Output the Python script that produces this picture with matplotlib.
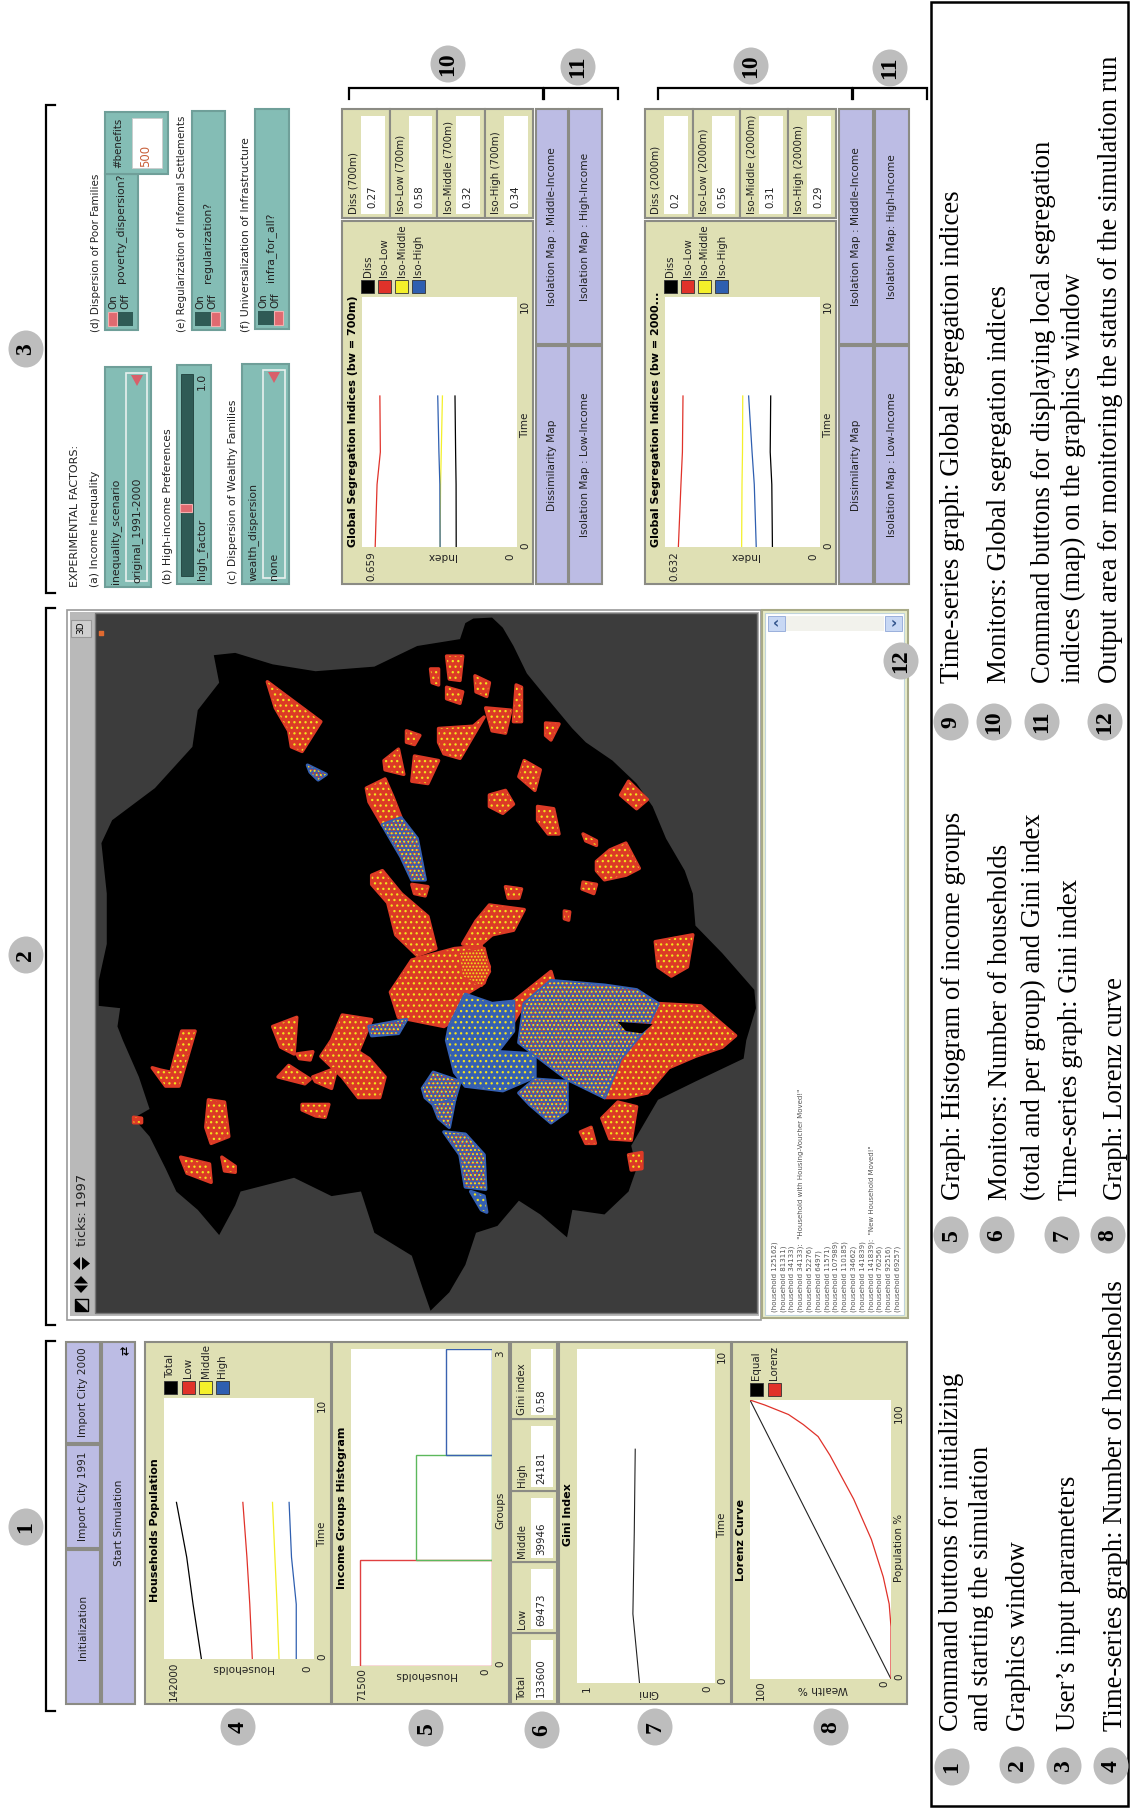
import matplotlib
matplotlib.use('Agg')
import matplotlib.pyplot as plt
from matplotlib.patches import Rectangle, Polygon, Ellipse

plt.rcParams['hatch.linewidth'] = 0.9

UI_FONT = ['Liberation Sans Narrow', 'DejaVu Sans']
SERIF = ['Liberation Serif', 'DejaVu Serif']

# plot data
pop_time = [0, 2.1, 3.9, 6.0]
pop_total = [106600, 114500, 120500, 130200]
pop_low = [58400, 60800, 63500, 67350]
pop_middle = [33100, 35000, 37000, 39300]
pop_high = [16800, 16800, 21300, 23570]

hist_groups = [0.5, 1.5, 2.5]
hist_values = [67000, 38500, 23100]
hist_colors = ['#e04040', '#5cb85c', '#3a62b0']

gini_time = [0, 2.07, 4.5, 7.0]
gini_values = [0.547, 0.595, 0.585, 0.578]

lorenz_pop = [0, 18.7, 26.9, 36.6, 50, 64.5, 80.2, 86.9, 91.2, 94.8, 98.2, 100]
lorenz_wealth = [0, 0, 1.3, 5.5, 13.9, 26.5, 43.3, 51.7, 62.2, 72.7, 89.5, 100]

seg_time = [0, 2.5, 3.8, 6.04]
seg700_low = [0.603, 0.595, 0.581, 0.583]
seg700_middle = [0.327, 0.325, 0.322, 0.317]
seg700_high = [0.327, 0.328, 0.332, 0.337]
seg700_diss = [0.2585, 0.259, 0.261, 0.2636]
seg2000_low = [0.5775, 0.567, 0.561, 0.5586]
seg2000_middle = [0.3195, 0.318, 0.316, 0.315]
seg2000_high = [0.26, 0.268, 0.277, 0.291]
seg2000_diss = [0.194, 0.1965, 0.203, 0.201]

legend_pop = ['Total', 'Low', 'Middle', 'High']
legend_seg = ['Diss', 'Iso-Low', 'Iso-Middle', 'Iso-High']
line_colors = ['#000000', '#e0322a', '#f4f02a', '#2f5fb0']

monitors_main = [('Total', '133600'), ('Low', '69473'), ('Middle', '39946'), ('High', '24181'), ('Gini index', '0.58')]
monitors_700 = [('Diss (700m)', '0.27'), ('Iso-Low (700m)', '0.58'), ('Iso-Middle (700m)', '0.32'), ('Iso-High (700m)', '0.34')]
monitors_2000 = [('Diss (2000m)', '0.2'), ('Iso-Low (2000m)', '0.56'), ('Iso-Middle (2000m)', '0.31'), ('Iso-High (2000m)', '0.29')]

output_lines = ['(household 125162)', '(household 81311)', '(household 34133)',
                '(household 34133):  "Household with Housing-Voucher Moved!"',
                '(household 52276)', '(household 6497)', '(household 11571)', '(household 107989)',
                '(household 110185)', '(household 34662)', '(household 141839)',
                '(household 141839):  "New Household Moved!"',
                '(household 76256)', '(household 92516)', '(household 69257)']

table_col1 = ['Command buttons for initializing', 'and starting the simulation', 'Graphics window',
              'User\u2019s input parameters', 'Time-series graph: Number of households']
table_col2 = ['Graph: Histogram of income groups', 'Monitors: Number of households',
              '(total and per group) and Gini index', 'Time-series graph: Gini index', 'Graph: Lorenz curve']
table_col3 = ['Time-series graph: Global segregation indices', 'Monitors: Global segregation indices',
              'Command buttons for displaying local segregation', 'indices (map) on the graphics window',
              'Output area for monitoring the status of the simulation run']

# map shapes, in a 1237 x 1527 map grid
map_outline = [(700, 50), (715, 40), (750, 38), (770, 60), (790, 100), (815, 160), (850, 210), (900, 280), (925, 310),
               (975, 350), (1020, 400), (1050, 450), (1075, 520), (1110, 590), (1125, 640), (1130, 710), (1180, 770),
               (1240, 850), (1243, 890), (1225, 960), (1220, 1000), (1130, 1050), (1060, 1090), (1040, 1130),
               (1010, 1190), (1020, 1240), (1005, 1290), (960, 1340), (900, 1330), (890, 1390), (840, 1340),
               (800, 1310), (760, 1365), (720, 1380), (700, 1450), (670, 1510), (635, 1550), (620, 1500), (600, 1430),
               (530, 1380), (505, 1290), (450, 1300), (380, 1260), (280, 1290), (270, 1320), (240, 1385), (200, 1330),
               (160, 1290), (140, 1240), (110, 1170), (80, 1130), (110, 1110), (90, 1040), (60, 960), (50, 930),
               (55, 890), (15, 885), (15, 830), (30, 750), (30, 640), (20, 530), (40, 480), (120, 410), (190, 320),
               (200, 240), (240, 180), (230, 120), (270, 115), (340, 140), (420, 155), (530, 145), (610, 100),
               (690, 85)]
map_red = [
    [(330, 178), (430, 265), (395, 330), (375, 320), (370, 285), (345, 235)],
    [(665, 122), (695, 122), (690, 175), (670, 172)],
    [(635, 150), (650, 150), (650, 185), (638, 180)],
    [(665, 190), (695, 200), (690, 225), (665, 215)],
    [(718, 165), (745, 180), (740, 210), (720, 200)],
    [(738, 235), (785, 240), (775, 290), (750, 285)],
    [(650, 280), (715, 275), (735, 255), (690, 345), (660, 335), (650, 310)],
    [(795, 185), (805, 190), (805, 265), (790, 265)],
    [(850, 268), (875, 270), (860, 305), (850, 295)],
    [(590, 285), (615, 295), (605, 315), (590, 310)],
    [(548, 350), (575, 325), (585, 380), (550, 370)],
    [(605, 340), (650, 350), (630, 400), (600, 395)],
    [(810, 350), (840, 370), (830, 415), (800, 385)],
    [(745, 425), (775, 415), (790, 445), (770, 465), (745, 450)],
    [(835, 450), (865, 455), (875, 510), (855, 510), (835, 480)],
    [(920, 510), (945, 525), (945, 535), (925, 525)],
    [(945, 570), (970, 545), (1000, 530), (1025, 585), (1000, 600), (960, 610), (945, 590)],
    [(920, 615), (945, 620), (940, 640), (918, 630)],
    [(1005, 395), (1040, 435), (1020, 455), (990, 425)],
    [(515, 410), (550, 390), (565, 430), (580, 475), (545, 490), (520, 440)],
    [(525, 600), (545, 590), (580, 640), (630, 690), (645, 760), (610, 775), (570, 730), (555, 660), (525, 620)],
    [(600, 620), (630, 625), (625, 645), (605, 640)],
    [(775, 625), (805, 630), (800, 650), (780, 650)],
    [(885, 678), (895, 680), (893, 698), (885, 695)],
    [(745, 665), (810, 675), (790, 720), (750, 730), (725, 755), (695, 750), (720, 700)],
    [(1055, 745), (1125, 730), (1115, 800), (1085, 820), (1060, 800)],
    [(560, 855), (600, 785), (680, 760), (730, 755), (745, 800), (735, 835), (700, 860), (700, 900), (660, 930), (575, 910)],
    [(1060, 880), (1140, 885), (1205, 950), (1180, 975), (1130, 995), (1080, 1020), (1040, 1075), (1000, 1085), (960, 1085), (980, 950)],
    [(790, 875), (860, 810), (865, 830), (810, 880), (790, 920)],
    [(470, 905), (525, 915), (500, 985), (520, 1000), (550, 1040), (540, 1085), (500, 1085), (470, 1040), (430, 995), (450, 960)],
    [(340, 930), (385, 910), (380, 990), (355, 975)],
    [(385, 990), (415, 985), (410, 1003), (390, 1000)],
    [(370, 1015), (410, 1045), (400, 1055), (350, 1040)],
    [(415, 1040), (460, 1020), (450, 1065), (420, 1050)],
    [(170, 940), (195, 940), (165, 1060), (140, 1060), (115, 1020), (130, 1025), (150, 1030)],
    [(220, 1090), (250, 1095), (258, 1170), (225, 1185), (215, 1150)],
    [(168, 1215), (222, 1230), (225, 1270), (180, 1250)],
    [(245, 1215), (270, 1235), (270, 1248), (250, 1245)],
    [(395, 1100), (445, 1100), (438, 1128), (420, 1125), (395, 1112)],
    [(80, 1128), (95, 1130), (95, 1140), (80, 1140)],
    [(955, 1130), (985, 1095), (1020, 1105), (1010, 1178), (970, 1175)],
    [(915, 1160), (935, 1150), (943, 1185), (925, 1185)],
    [(1005, 1210), (1030, 1205), (1030, 1240), (1010, 1243)],
]
map_blue = [
    [(700, 860), (750, 880), (790, 875), (790, 940), (760, 985), (830, 990), (830, 1040), (770, 1070), (700, 1060), (680, 1030), (665, 960), (670, 930)],
    [(710, 1290), (735, 1300), (740, 1335), (730, 1330)],
]
map_mix = [
    [(405, 360), (440, 380), (425, 392), (410, 375)],
    [(545, 490), (580, 475), (610, 520), (625, 610), (600, 610), (580, 560)],
    [(860, 830), (960, 840), (1020, 850), (1060, 880), (1040, 930), (990, 1000), (960, 1085), (890, 1045), (800, 965), (810, 880)],
    [(800, 1075), (830, 1045), (890, 1050), (890, 1115), (860, 1140), (820, 1100)],
    [(620, 1065), (640, 1030), (690, 1050), (680, 1090), (650, 1110), (625, 1085)],
    [(640, 1100), (680, 1090), (670, 1150), (650, 1130)],
    [(660, 1160), (700, 1165), (735, 1210), (738, 1285), (700, 1280), (690, 1210)],
    [(520, 930), (590, 915), (575, 945), (525, 950)],
]
map_yellow = [[(690, 770), (735, 760), (745, 810), (730, 840), (695, 820)]]
map_holes = [[(985, 920), (1050, 925), (1030, 945), (1000, 940)]]

PANEL = '#dfe0b4'
BUTTON = '#bcbce4'
TEAL = '#84bdb5'
EDGE = '#8b8b84'
RED = '#dc3a26'
BLUE = '#3560b2'
YELLOW = '#f2e41e'

fig = plt.figure(figsize=(11.3, 18.09), dpi=100)
base = fig.add_axes([0, 0, 1, 1])
base.set_xlim(0, 1130)
base.set_ylim(1809, 0)
base.axis('off')


def box(x0, x1, y0, y1, color, edge=EDGE, lw=1.5, z=1):
    base.add_patch(Rectangle((x0, y0), x1 - x0, y1 - y0, facecolor=color, edgecolor=edge, linewidth=lw, zorder=z))


def txt(x, y, s, size=7.5, color='#222222', va='bottom', ha='center', rot=90, weight='normal', family=UI_FONT, z=5, **kw):
    return base.text(x, y, s, fontsize=size, color=color, va=va, ha=ha, rotation=rot, fontweight=weight,
                     family=family, zorder=z, **kw)


def button(x0, x1, y0, y1, label):
    box(x0, x1, y0, y1, BUTTON)
    txt((x0 + x1) / 2, (y0 + y1) / 2, label, va='center', size=7.6)


def monitors_v(y_edges, x0, x1, items):
    for i, (label, value) in enumerate(items):
        y0, y1 = y_edges[i + 1], y_edges[i]
        box(x0, x1, y0, y1, PANEL)
        box(x0 + 20, x1 - 4, y0 + 7, y1 - 4, 'white', edge='none', lw=0)
        txt(x0 + 11, y1 - 4, label, size=7.4)
        txt(x0 + 30, y1 - 7, value, size=7.4)


def plot_axes(x0, x1, y0, y1):
    ax = fig.add_axes([x0 / 1130, 1 - y1 / 1809, (x1 - x0) / 1130, (y1 - y0) / 1809])
    ax.set_facecolor('white')
    ax.set_xticks([])
    ax.set_yticks([])
    for s in ax.spines.values():
        s.set_visible(False)
    return ax


def legend(xs, y0, y1, names, colors):
    for x, name, c in zip(xs, names, colors):
        box(x, x + 13, y0, y1, c, edge='#333333', lw=0.6, z=3)
        txt(x + 6.5, y0 - 3, name, size=7.4)


def circle(x, y, s, size=17):
    base.add_patch(Ellipse((x, y), 35, 37, facecolor='#bdbdbd', edgecolor='none', zorder=6))
    txt(x, y, s, size=size, color='black', va='center', weight='bold', family=SERIF, z=7)


def bracket_v(x, y0, y1):
    base.plot([x + 9, x, x, x + 9], [y0, y0, y1, y1], color='black', lw=1.6, solid_joinstyle='miter', zorder=4)


def bracket_h(x0, x1, y):
    base.plot([x0, x0, x1, x1], [y + 11, y, y, y + 11], color='black', lw=1.6, solid_joinstyle='miter', zorder=4)


def chooser(x0, x1, y0, y1, name, value):
    box(x0, x1, y0, y1, TEAL, edge='#6f9f99')
    box(x0 + 21, x1 - 4, y0 + 6, y1 - 6, TEAL, edge='#e8f0ee', lw=1.2)
    txt(x0 + 11, y1 - 3, name, size=7.8)
    txt(x0 + 32, y1 - 4, value, size=7.8)
    xm, ym = x0 + 32, y0 + 14
    base.add_patch(Polygon([(xm - 6, ym - 6), (xm + 6, ym - 6), (xm, ym + 5)], facecolor='#d8606a', edgecolor='none', zorder=5))


def switch(x0, x1, y0, y1, name, on_side):
    box(x0, x1, y0, y1, TEAL, edge='#6f9f99')
    box(x0 + 3, x0 + 28, y1 - 18, y1 - 4, '#2f5a55', edge='none', lw=0)
    hx = x0 + 3 if on_side else x0 + 19
    box(hx, hx + 9, y1 - 18, y1 - 4, '#e06a70', edge='#f4b0b0', lw=0.8)
    txt(x0 + 8, y1 - 21, 'On', size=7.4)
    txt(x0 + 20, y1 - 21, 'Off', size=7.4)
    txt(x0 + 16, y1 - 47, name, size=7.8)


def map_patch(pts, face, layers):
    # a thick round edge softens the corners, the dots go on top
    world.add_patch(Polygon(pts, facecolor=face, edgecolor=face, linewidth=2.5, joinstyle='round'))
    for color, pattern in layers:
        world.add_patch(Polygon(pts, facecolor='none', edgecolor=color, hatch=pattern, linewidth=0))


# buttons, left block
button(66, 100, 1342, 1443, 'Import City 2000')
button(66, 100, 1445, 1548, 'Import City 1991')
button(66, 100, 1550, 1704, 'Initialization')
button(102, 135, 1342, 1704, 'Start Simulation')
txt(126, 1350, '\u21c4', size=8, color='black', va='center', weight='bold', family=['DejaVu Sans'])

# households panel
box(145, 331, 1342, 1704, PANEL)
txt(155, 1530, 'Households Population', size=8, va='center', weight='bold', color='black')
ax = plot_axes(164, 314, 1398, 1659)
for vals, c in zip([pop_total, pop_low, pop_middle, pop_high], line_colors):
    ax.plot(vals, pop_time, color=c, lw=0.9)
ax.set_xlim(142000, 0)
ax.set_ylim(0, 10)
txt(174, 1701, '142000')
txt(307, 1665, '0', va='top')
txt(242, 1668, 'Households', rot=180, va='center', size=7.6)
txt(322, 1657, '0', va='center')
txt(322, 1405, '10', va='center')
txt(322, 1534, 'Time', va='center')
legend([164, 181.5, 199, 216], 1381, 1394, legend_pop, line_colors)

# histogram panel
box(332, 509, 1342, 1704, PANEL)
txt(342, 1508, 'Income Groups Histogram', size=8, va='center', weight='bold', color='black')
ax = plot_axes(351, 492, 1349, 1666)
ax.barh(hist_groups, hist_values, height=1, fill=False, edgecolor=hist_colors, linewidth=1.0)
ax.set_xlim(71500, 0)
ax.set_ylim(0, 3)
txt(362, 1701, '71500')
txt(485, 1672, '0', va='center')
txt(425, 1675, 'Households', rot=180, va='center', size=7.6)
txt(500, 1664, '0', va='center')
txt(500, 1354, '3', va='center')
txt(500, 1510, 'Groups', va='center')

monitors_v([1704, 1633, 1562, 1491, 1419, 1342], 511, 557, monitors_main)

# gini panel
box(559, 731, 1342, 1704, PANEL)
txt(568, 1515, 'Gini Index', size=8, va='center', weight='bold', color='black')
ax = plot_axes(577, 715, 1349, 1683)
ax.plot(gini_values, gini_time, color='#222222', lw=0.8)
ax.set_xlim(1, 0)
ax.set_ylim(0, 10)
txt(587, 1689, '1', va='center')
txt(707, 1689, '0', va='center')
txt(648, 1693, 'Gini', rot=180, va='center', size=7.6)
txt(722, 1681, '0', va='center')
txt(722, 1356, '10', va='center')
txt(722, 1525, 'Time', va='center')
txt(651, 1682, '0.46', bbox=dict(facecolor=PANEL, edgecolor='none', pad=1))
txt(710, 1625, '2.11', bbox=dict(facecolor=PANEL, edgecolor='none', pad=1))

# lorenz panel
box(732, 907, 1342, 1704, PANEL)
txt(741, 1540, 'Lorenz Curve', size=8, va='center', weight='bold', color='black')
ax = plot_axes(750, 891, 1400, 1679)
ax.plot([0, 100], [0, 100], color='#222222', lw=0.8)
ax.plot(lorenz_wealth, lorenz_pop, color=line_colors[1], lw=0.9)
ax.set_xlim(100, 0)
ax.set_ylim(0, 100)
txt(761, 1700, '100')
txt(884, 1684, '0', va='center')
txt(823, 1689, 'Wealth %', rot=180, va='center', size=7.6)
txt(899, 1413, '100', va='center')
txt(899, 1677, '0', va='center')
txt(899, 1548, 'Population %', va='center')
legend([750, 768], 1383, 1396, ['Equal', 'Lorenz'], ['#000000', '#e0322a'])

# graphics window
box(67, 761, 610, 1320, 'white', edge='#999999', lw=1.2)
box(70, 759, 612, 1316, '#b9b9b9', edge='none', lw=0)
box(95, 757, 613, 1313, '#3c3c3c', edge='#777777', lw=1)
txt(82, 1210, 'ticks: 1997', va='center', color='#222222', size=9.4)
box(71, 91, 620, 637, '#cfcfcf', edge='#999999', lw=0.8)
txt(81, 628, '3D', va='center', size=6.5, color='black')
base.add_patch(Polygon([(75, 1299), (75, 1311), (88, 1311)], facecolor='black', zorder=5))
base.add_patch(Rectangle((75, 1299), 13, 12, facecolor='none', edgecolor='black', lw=1, zorder=5))
# arrow icons on the toolbar
base.add_patch(Polygon([(81, 1276), (74, 1283.5), (88, 1283.5)], facecolor='black', zorder=5))
base.add_patch(Polygon([(81, 1293), (74, 1285.5), (88, 1285.5)], facecolor='black', zorder=5))
base.add_patch(Polygon([(73, 1263.5), (80, 1257), (80, 1270)], facecolor='black', zorder=5))
base.add_patch(Polygon([(90, 1263.5), (82, 1257), (82, 1270)], facecolor='black', zorder=5))

world = plot_axes(95, 757, 613, 1313)
world.patch.set_alpha(0)
world.set_xlim(8, 1245)
world.set_ylim(1555, 28)
world.add_patch(Polygon(map_outline, facecolor='black', edgecolor='none'))
for pts in map_red:
    map_patch(pts, RED, [(YELLOW, '...')])
for pts in map_blue:
    map_patch(pts, BLUE, [(YELLOW, '...')])
for pts in map_mix:
    map_patch(pts, BLUE, [(RED, '.....'), (YELLOW, '....')])
for pts in map_yellow:
    map_patch(pts, RED, [(YELLOW, '.....')])
for pts in map_holes:
    world.add_patch(Polygon(pts, facecolor='black', edgecolor='none'))
world.scatter([20], [72], s=6, marker='s', color='#e06a30')

# output area
box(762, 908, 610, 1318, '#e8ecc8', edge='#a8aa88', lw=1.5)
box(765, 904, 613, 1315, 'white', edge='#c0d4dc', lw=0.8)
box(786, 884, 616, 631, '#f2f2ec', edge='none', lw=0)
box(768, 785, 616, 631, '#c8d8f4', edge='#9ab0dc', lw=0.7)
box(885, 902, 616, 631, '#c8d8f4', edge='#9ab0dc', lw=0.7)
txt(776.5, 623.5, '\u2039', va='center', ha='center', rot=0, size=11, color='#33558c', family=['DejaVu Sans'], weight='bold')
txt(893.5, 623.5, '\u203a', va='center', ha='center', rot=0, size=11, color='#33558c', family=['DejaVu Sans'], weight='bold')
for i, line in enumerate(output_lines):
    txt(774.5 + i * 8.8, 1312, line, size=5.0, color='#555555', family=['DejaVu Sans'])

# input parameters
txt(75, 587, 'EXPERIMENTAL FACTORS:', size=8)
txt(95, 587, '(a) Income Inequality', size=7.8)
chooser(105, 151, 367, 587, 'inequality_scenario', 'original_1991-2000')
txt(168, 584, '(b) High-income Preferences', size=7.8)
box(177, 211, 365, 584, TEAL, edge='#6f9f99')
box(181, 193, 374, 576, '#2f5a55', edge='#1f3f3c', lw=0.6)
box(180, 192, 504, 512, '#e06a70', edge='#f4b0b0', lw=0.8)
txt(202, 580, 'high_factor', size=7.8)
txt(202, 390, '1.0', size=7.8)
txt(233, 584, '(c) Dispersion of Wealthy Families', size=7.8)
chooser(242, 289, 364, 584, 'wealth_dispersion', 'none')
txt(96, 332, '(d) Dispersion of Poor Families', size=7.5)
switch(105, 138, 174, 330, 'poverty_dispersion?', True)
box(105, 168, 112, 174, TEAL, edge='#6f9f99')
box(132, 162, 118, 168, 'white', edge='#cccccc', lw=0.6)
txt(118, 168, '#benefits', size=7.4)
txt(146, 167, '500', size=8.5, color='#c8603a')
txt(182, 332, '(e) Regularization of Informal Settlements', size=7.4)
switch(192, 225, 111, 330, 'regularization?', False)
txt(245, 332, '(f) Universalization of Infrastructure', size=7.8)
switch(255, 289, 109, 329, 'infra_for_all?', False)

# segregation panels
for x_mon, title, top, low_, mid_, high_, diss_, mons in [
        (342, 'Global Segregation Indices (bw = 700m)', '0.659', seg700_low, seg700_middle, seg700_high, seg700_diss, monitors_700),
        (645, 'Global Segregation Indices (bw = 2000...', '0.632', seg2000_low, seg2000_middle, seg2000_high, seg2000_diss, monitors_2000)]:
    x_r = x_mon + 191
    box(x_mon, x_r, 221, 584, PANEL)
    txt(x_mon + 11, 547, title, size=8, weight='bold', color='black')
    ax = plot_axes(x_mon + 20, x_mon + 175, 297, 547)
    for vals, c in zip([diss_, low_, mid_, high_], line_colors):
        ax.plot(vals, seg_time, color=c, lw=0.9)
    ax.set_xlim(float(top), 0)
    ax.set_ylim(0, 10)
    txt(x_mon + 29, 581, top)
    txt(x_mon + 168, 553, '0', va='top')
    txt(x_mon + 99, 556, 'Index', rot=180, va='center', size=7.6)
    txt(x_mon + 183, 546, '0', va='center')
    txt(x_mon + 183, 306, '10', va='center')
    txt(x_mon + 183, 425, 'Time', va='center')
    legend([x_mon + 19, x_mon + 36, x_mon + 53, x_mon + 70], 280, 293, legend_seg, line_colors)
    w = 47.7
    for i, (label, value) in enumerate(mons):
        x0, x1 = x_mon + i * w, x_mon + (i + 1) * w
        box(x0, x1, 109, 218, PANEL)
        box(x0 + 19, x1 - 5, 116, 214, 'white', edge='none', lw=0)
        txt(x0 + 11, 214, label, size=7.4)
        txt(x0 + 30, 208, value, size=7.4)

button(536, 568, 109, 344, 'Isolation Map : Middle-Income')
button(569, 602, 109, 344, 'Isolation Map : High-Income')
button(536, 568, 346, 584, 'Dissimilarity Map')
button(569, 602, 346, 584, 'Isolation Map : Low-Income')
button(839, 873, 109, 344, 'Isolation Map : Middle-Income')
button(875, 909, 109, 344, 'Isolation Map: High-Income')
button(839, 873, 346, 584, 'Dissimilarity Map')
button(875, 909, 346, 584, 'Isolation Map : Low-Income')

# brackets
bracket_v(46, 105, 593)
bracket_v(46, 608, 1325)
bracket_v(46, 1341, 1711)
bracket_h(349, 543, 88)
bracket_h(544, 618, 88)
bracket_h(658, 852, 88)
bracket_h(853, 927, 88)

# numbered callouts
for x, y, s in [(26, 1527, '1'), (26, 955, '2'), (26, 349, '3'), (238, 1727, '4'), (426, 1728, '5'), (542, 1730, '6'),
                (655, 1727, '7'), (831, 1727, '8'), (384, 321, '9'), (699, 319, '9'), (448, 64, '10'), (751, 66, '10'),
                (578, 67, '11'), (890, 68, '11'), (901, 661, '12')]:
    circle(x, y, s)

# table at the right
base.add_patch(Rectangle((931, 2), 197, 1804, facecolor='white', edgecolor='black', linewidth=1.8, zorder=1))
for x, y, s in [(952, 1767, '1'), (1017, 1765, '2'), (1064, 1766, '3'), (1111, 1766, '4'),
                (951, 1235, '5'), (997, 1235, '6'), (1062, 1235, '7'), (1108, 1235, '8'),
                (951, 722, '9'), (994, 722, '10'), (1042, 722, '11'), (1105, 722, '12')]:
    circle(x, y, s)
for lines, xs, y in [(table_col1, [958, 988, 1025, 1075, 1122], 1731),
                     (table_col2, [960, 1007, 1040, 1077, 1122], 1200),
                     (table_col3, [959, 1006, 1050, 1080, 1117], 683)]:
    for s, x in zip(lines, xs):
        txt(x, y, s, size=19.3, color='black', family=SERIF, va='baseline', ha='left', rotation_mode='anchor')

fig.savefig('out.png', dpi=100)
